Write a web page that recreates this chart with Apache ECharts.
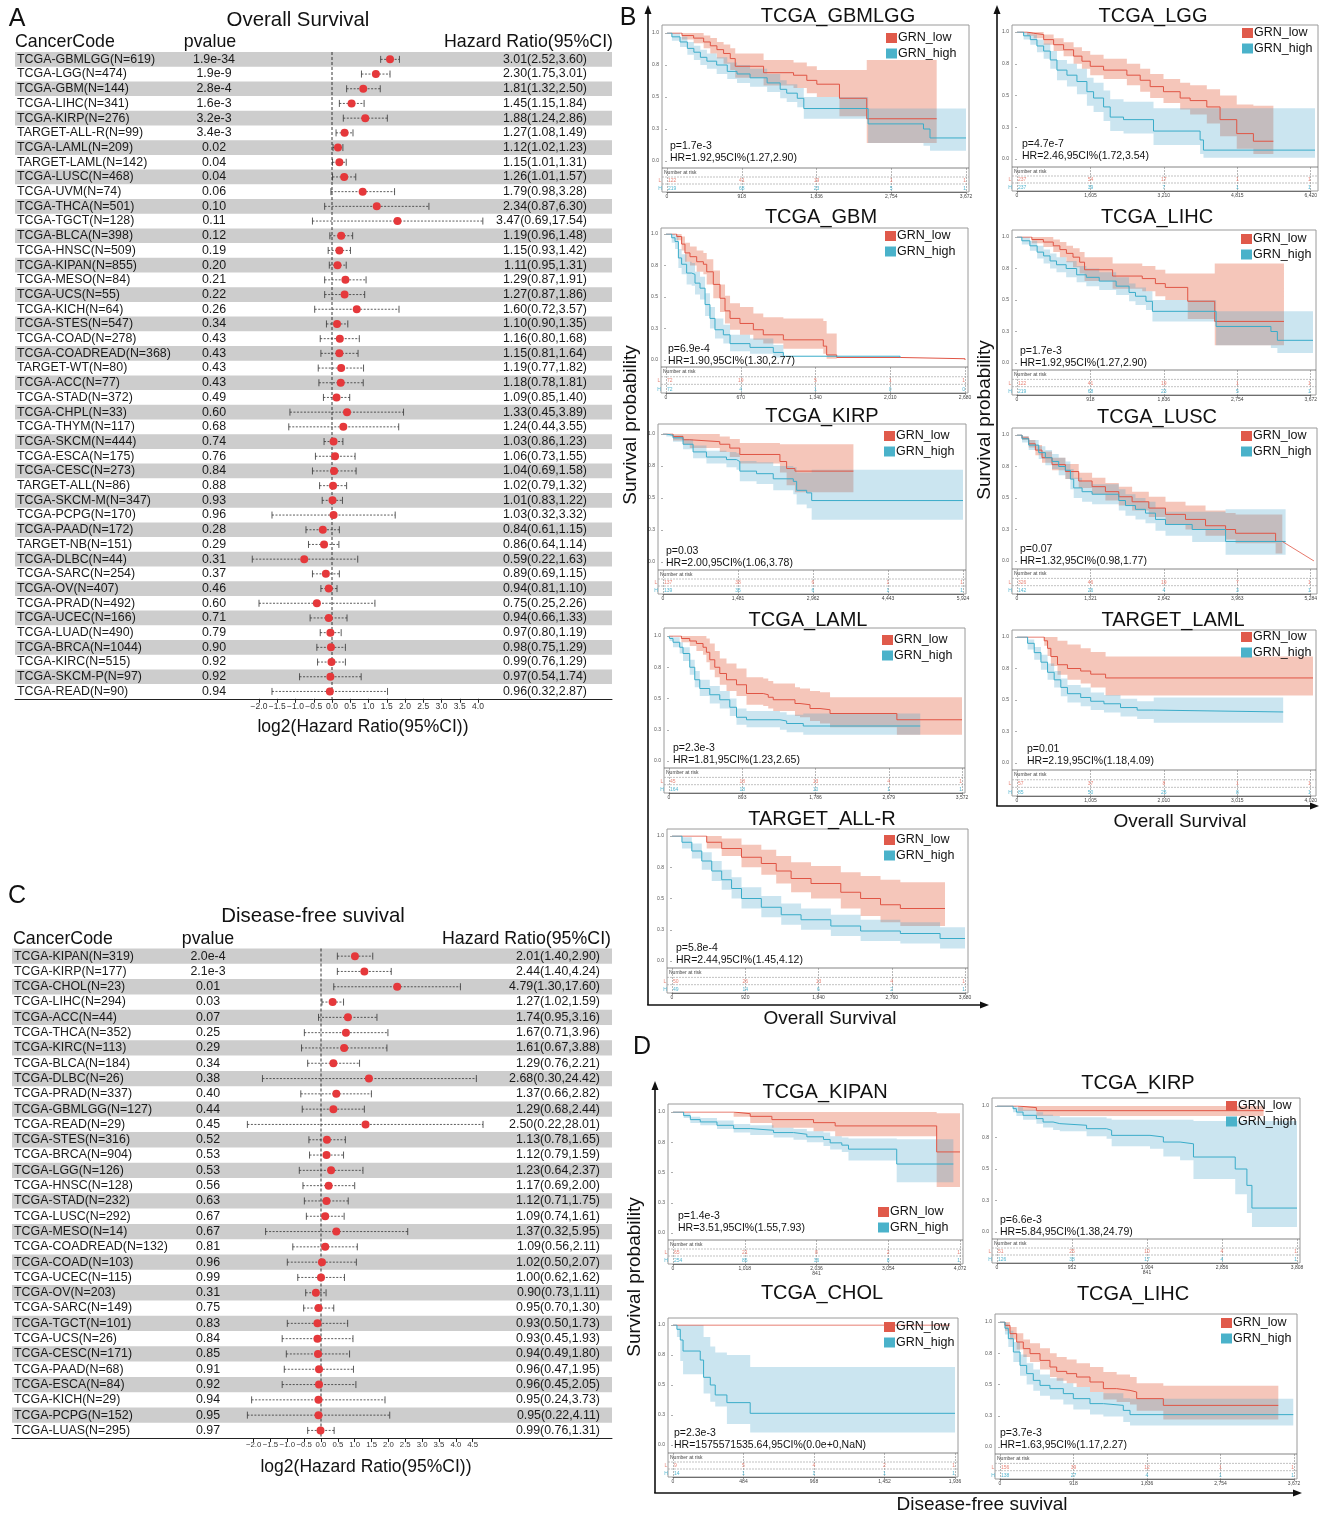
<!DOCTYPE html>
<html>
<head>
<meta charset="utf-8">
<script src="https://cdn.jsdelivr.net/npm/echarts@6/dist/echarts.min.js"></script>
<style>
html, body { margin: 0; padding: 0; background: #fff; }
#chart { width: 1320px; height: 1513px; }
</style>
</head>
<body>
<div id="chart"></div>
<script>
// ---------- A: overall survival forest plot ----------
var osCodes = ['TCGA-GBMLGG(N=619)','TCGA-LGG(N=474)','TCGA-GBM(N=144)','TCGA-LIHC(N=341)','TCGA-KIRP(N=276)','TARGET-ALL-R(N=99)','TCGA-LAML(N=209)','TARGET-LAML(N=142)','TCGA-LUSC(N=468)','TCGA-UVM(N=74)','TCGA-THCA(N=501)','TCGA-TGCT(N=128)','TCGA-BLCA(N=398)','TCGA-HNSC(N=509)','TCGA-KIPAN(N=855)','TCGA-MESO(N=84)','TCGA-UCS(N=55)','TCGA-KICH(N=64)','TCGA-STES(N=547)','TCGA-COAD(N=278)','TCGA-COADREAD(N=368)','TARGET-WT(N=80)','TCGA-ACC(N=77)','TCGA-STAD(N=372)','TCGA-CHPL(N=33)','TCGA-THYM(N=117)','TCGA-SKCM(N=444)','TCGA-ESCA(N=175)','TCGA-CESC(N=273)','TARGET-ALL(N=86)','TCGA-SKCM-M(N=347)','TCGA-PCPG(N=170)','TCGA-PAAD(N=172)','TARGET-NB(N=151)','TCGA-DLBC(N=44)','TCGA-SARC(N=254)','TCGA-OV(N=407)','TCGA-PRAD(N=492)','TCGA-UCEC(N=166)','TCGA-LUAD(N=490)','TCGA-BRCA(N=1044)','TCGA-KIRC(N=515)','TCGA-SKCM-P(N=97)','TCGA-READ(N=90)'];
var osP = ['1.9e-34','1.9e-9','2.8e-4','1.6e-3','3.2e-3','3.4e-3','0.02','0.04','0.04','0.06','0.10','0.11','0.12','0.19','0.20','0.21','0.22','0.26','0.34','0.43','0.43','0.43','0.43','0.49','0.60','0.68','0.74','0.76','0.84','0.88','0.93','0.96','0.28','0.29','0.31','0.37','0.46','0.60','0.71','0.79','0.90','0.92','0.92','0.94'];
var osHR = [3.01,2.30,1.81,1.45,1.88,1.27,1.12,1.15,1.26,1.79,2.34,3.47,1.19,1.15,1.11,1.29,1.27,1.60,1.10,1.16,1.15,1.19,1.18,1.09,1.33,1.24,1.03,1.06,1.04,1.02,1.01,1.03,0.84,0.86,0.59,0.89,0.94,0.75,0.94,0.97,0.98,0.99,0.97,0.96];
var osLow = [2.52,1.75,1.32,1.15,1.24,1.08,1.02,1.01,1.01,0.98,0.87,0.69,0.96,0.93,0.95,0.87,0.87,0.72,0.90,0.80,0.81,0.77,0.78,0.85,0.45,0.44,0.86,0.73,0.69,0.79,0.83,0.32,0.61,0.64,0.22,0.69,0.81,0.25,0.66,0.80,0.75,0.76,0.54,0.32];
var osHigh = [3.60,3.01,2.50,1.84,2.86,1.49,1.23,1.31,1.57,3.28,6.30,17.54,1.48,1.42,1.31,1.91,1.86,3.57,1.35,1.68,1.64,1.82,1.81,1.40,3.89,3.55,1.23,1.55,1.58,1.32,1.22,3.32,1.15,1.14,1.63,1.15,1.10,2.26,1.33,1.19,1.29,1.29,1.74,2.87];

// ---------- C: disease-free survival forest plot ----------
var dfsCodes = ['TCGA-KIPAN(N=319)','TCGA-KIRP(N=177)','TCGA-CHOL(N=23)','TCGA-LIHC(N=294)','TCGA-ACC(N=44)','TCGA-THCA(N=352)','TCGA-KIRC(N=113)','TCGA-BLCA(N=184)','TCGA-DLBC(N=26)','TCGA-PRAD(N=337)','TCGA-GBMLGG(N=127)','TCGA-READ(N=29)','TCGA-STES(N=316)','TCGA-BRCA(N=904)','TCGA-LGG(N=126)','TCGA-HNSC(N=128)','TCGA-STAD(N=232)','TCGA-LUSC(N=292)','TCGA-MESO(N=14)','TCGA-COADREAD(N=132)','TCGA-COAD(N=103)','TCGA-UCEC(N=115)','TCGA-OV(N=203)','TCGA-SARC(N=149)','TCGA-TGCT(N=101)','TCGA-UCS(N=26)','TCGA-CESC(N=171)','TCGA-PAAD(N=68)','TCGA-ESCA(N=84)','TCGA-KICH(N=29)','TCGA-PCPG(N=152)','TCGA-LUAS(N=295)'];
var dfsP = ['2.0e-4','2.1e-3','0.01','0.03','0.07','0.25','0.29','0.34','0.38','0.40','0.44','0.45','0.52','0.53','0.53','0.56','0.63','0.67','0.67','0.81','0.96','0.99','0.31','0.75','0.83','0.84','0.85','0.91','0.92','0.94','0.95','0.97'];
var dfsHR = [2.01,2.44,4.79,1.27,1.74,1.67,1.61,1.29,2.68,1.37,1.29,2.50,1.13,1.12,1.23,1.17,1.12,1.09,1.37,1.09,1.02,1.00,0.90,0.95,0.93,0.93,0.94,0.96,0.96,0.95,0.95,0.99];
var dfsLow = [1.40,1.40,1.30,1.02,0.95,0.71,0.67,0.76,0.30,0.66,0.68,0.22,0.78,0.79,0.64,0.69,0.71,0.74,0.32,0.56,0.50,0.62,0.73,0.70,0.50,0.45,0.49,0.47,0.45,0.24,0.22,0.76];
var dfsHigh = [2.90,4.24,17.60,1.59,3.16,3.96,3.88,2.21,24.42,2.82,2.44,28.01,1.65,1.59,2.37,2.00,1.75,1.61,5.95,2.11,2.07,1.62,1.11,1.30,1.73,1.93,1.80,1.95,2.05,3.73,4.11,1.31];

// ---------- KM curves, rows = [day, survival, lower95, upper95] ----------
var gbmlggLow = [[0,1,1,1],[184,.98,.95,1],[327,.96,.92,1],[450,.93,.88,.98],[532,.90,.84,.96],[613,.87,.80,.93],[695,.84,.76,.91],[777,.80,.71,.88],[838,.74,.65,.84],[1186,.69,.59,.79],[1554,.67,.57,.77],[1717,.63,.53,.74],[1840,.60,.50,.71],[2118,.49,.35,.71],[2453,.33,.14,.79],[3312,.33,.14,.79]];
var gbmlggHigh = [[0,1,1,1],[60,.97,.94,1],[160,.93,.89,.97],[250,.88,.83,.93],[330,.85,.79,.90],[410,.81,.75,.87],[490,.78,.72,.84],[610,.75,.68,.81],[740,.70,.64,.77],[860,.68,.61,.75],[1020,.65,.58,.72],[1230,.61,.54,.68],[1390,.56,.49,.63],[1470,.53,.46,.60],[1600,.49,.42,.57],[1680,.41,.33,.50],[2470,.29,.14,.41],[3150,.25,.12,.41],[3230,.18,.08,.41],[3672,.18,.08,.41]];
var gbmlggRiskL = [122,41,19,1,1], gbmlggRiskH = [219,68,23,5,1];

var lggLow = [[0,1,1,1],[215,.99,.97,1],[359,.98,.95,1],[574,.94,.90,.98],[789,.90,.85,.95],[1004,.86,.81,.92],[1219,.81,.75,.88],[1399,.77,.71,.85],[1578,.73,.66,.82],[1865,.70,.63,.79],[2367,.66,.58,.75],[2654,.62,.53,.71],[2869,.57,.48,.67],[3156,.53,.44,.63],[3515,.48,.39,.60],[3730,.46,.35,.58],[4089,.41,.28,.55],[4375,.31,.18,.50],[4734,.20,.08,.43],[5093,.14,.04,.42],[5523,.14,.04,.42]];
var lggHigh = [[0,1,1,1],[143,.97,.94,1],[287,.94,.90,.98],[430,.89,.84,.94],[574,.85,.79,.91],[717,.78,.71,.85],[861,.70,.62,.78],[1076,.66,.57,.75],[1291,.61,.51,.71],[1506,.53,.42,.64],[1650,.48,.37,.60],[1865,.41,.30,.54],[2008,.33,.22,.47],[2295,.31,.20,.45],[2941,.22,.11,.40],[3945,.15,.04,.40],[4017,.07,.01,.40],[6420,.07,.01,.40]];
var lggRiskL = [237,54,17,1,1], lggRiskH = [237,39,7,1,1];

var gbmLow = [[0,1,1,1],[96,.98,.95,1],[140,.92,.87,.98],[170,.85,.78,.93],[215,.82,.75,.90],[275,.78,.70,.87],[335,.76,.68,.85],[365,.70,.60,.80],[424,.60,.49,.71],[484,.49,.38,.60],[529,.39,.29,.51],[574,.33,.24,.45],[663,.29,.20,.42],[783,.24,.16,.37],[872,.20,.13,.34],[1052,.16,.09,.33],[1410,.11,.05,.31],[1440,.04,.01,.21],[1530,.02,.02,.02],[2098,.01,.01,.01],[2680,0,0,0]];
var gbmHigh = [[0,1,1,1],[51,.97,.93,1],[81,.94,.88,.99],[111,.81,.73,.88],[140,.76,.68,.84],[185,.69,.60,.78],[230,.68,.59,.77],[260,.61,.52,.70],[305,.57,.48,.66],[350,.44,.35,.53],[394,.33,.25,.42],[439,.24,.17,.33],[514,.20,.13,.28],[574,.13,.07,.20],[753,.10,.05,.17],[962,.06,.02,.12],[1052,.03,.03,.03],[2098,.02,.02,.02]];
var gbmRiskL = [72,19,5,1,1], gbmRiskH = [72,4,1,0,0];

var kirpLow = [[0,1,1,1],[198,.98,.95,1],[396,.955,.92,1],[528,.94,.89,1],[1121,.92,.86,.98],[1319,.89,.82,.96],[1517,.84,.77,.93],[2309,.785,.70,.92],[2441,.73,.60,.92],[2606,.71,.545,.92],[3760,.71,.545,.92]];
var kirpHigh = [[0,1,1,1],[66,.99,.98,1],[198,.97,.94,.99],[396,.92,.88,.96],[594,.86,.81,.91],[858,.82,.77,.87],[1253,.80,.74,.86],[1451,.785,.72,.85],[1517,.71,.63,.79],[1847,.69,.61,.78],[2177,.65,.56,.75],[2573,.63,.53,.74],[2639,.56,.45,.70],[2837,.54,.42,.70],[2936,.48,.33,.72],[5924,.48,.33,.72]];
var kirpRiskL = [137,38,6,1,1], kirpRiskH = [139,36,6,1,1];

var lamlLow = [[0,1,1,1],[151,.98,.95,1],[253,.96,.92,1],[334,.94,.88,1],[415,.91,.85,1],[456,.87,.79,.98],[497,.81,.73,.94],[558,.75,.67,.88],[619,.70,.61,.82],[701,.65,.56,.78],[823,.61,.52,.74],[945,.54,.45,.67],[1149,.53,.44,.66],[1210,.51,.42,.64],[1271,.49,.40,.62],[1536,.46,.36,.59],[1597,.45,.35,.58],[1719,.42,.32,.56],[1841,.41,.30,.55],[1963,.38,.27,.51],[2778,.33,.21,.51],[3572,.33,.21,.51]];
var lamlHigh = [[0,1,1,1],[8,.98,.96,1],[49,.95,.91,.99],[130,.91,.86,.95],[171,.86,.80,.91],[253,.75,.69,.81],[314,.65,.59,.72],[375,.58,.52,.65],[497,.53,.46,.60],[619,.49,.42,.56],[741,.43,.36,.50],[823,.35,.29,.42],[945,.33,.27,.40],[1352,.32,.25,.39],[1434,.30,.23,.37],[1637,.28,.21,.38],[3063,.28,.21,.38]];
var lamlRiskL = [45,18,13,4,1], lamlRiskH = [164,18,10,1,1];

var allrLow = [[0,1,1,1],[436,.95,.90,1],[624,.90,.84,.98],[873,.83,.75,.93],[1122,.78,.69,.89],[1309,.72,.62,.84],[1496,.66,.55,.79],[1746,.62,.50,.76],[2120,.55,.42,.71],[2369,.50,.36,.68],[2619,.45,.31,.65],[2868,.42,.28,.63],[3429,.42,.28,.63]];
var allrHigh = [[0,1,1,1],[125,.95,.90,.99],[249,.88,.82,.94],[374,.80,.73,.87],[499,.72,.64,.80],[624,.65,.57,.73],[748,.58,.50,.67],[873,.50,.42,.59],[1122,.43,.35,.52],[1372,.37,.29,.46],[1621,.33,.25,.42],[1995,.28,.20,.37],[2369,.24,.16,.33],[2868,.22,.14,.31],[3367,.18,.10,.27],[3680,.18,.10,.27]];
var allrRiskL = [50,26,13,4,1], allrRiskH = [49,14,6,2,1];

var lihcLow = gbmlggLow, lihcHigh = gbmlggHigh;
var lihcRiskL = [122,41,19,1,1], lihcRiskH = [219,68,23,5,1];

var luscLow = [[0,1,1,1],[89,.975,.96,.99],[208,.93,.90,.96],[327,.88,.84,.92],[445,.82,.78,.87],[623,.765,.72,.82],[861,.71,.65,.77],[1098,.635,.58,.70],[1336,.59,.53,.66],[1573,.55,.48,.62],[1811,.51,.44,.59],[2048,.47,.40,.55],[2345,.42,.35,.51],[2642,.37,.29,.47],[2998,.33,.25,.44],[3354,.28,.20,.40],[3711,.25,.17,.38],[3889,.22,.14,.37],[4601,.155,.06,.37],[4720,.155,.06,.37]];
var luscTail = [[4720,.155],[5284,0]];
var luscHigh = [[0,1,1,1],[89,.97,.94,.99],[208,.92,.88,.96],[386,.86,.81,.91],[505,.82,.76,.88],[623,.79,.73,.85],[742,.75,.68,.82],[861,.72,.65,.79],[950,.65,.57,.73],[1009,.58,.50,.66],[1158,.55,.47,.63],[1336,.53,.45,.61],[1811,.48,.40,.57],[1930,.44,.36,.53],[2108,.41,.33,.50],[2286,.38,.30,.47],[2464,.33,.24,.42],[2642,.29,.20,.39],[3117,.25,.15,.39],[3711,.155,.05,.41],[4779,.155,.05,.41]];
var luscRiskL = [326,46,19,7,1], luscRiskH = [142,26,4,3,1];

var tlamlLow = [[0,1,1,1],[370,.97,.93,1],[415,.91,.85,1],[460,.845,.77,1],[550,.78,.70,.97],[685,.75,.66,.94],[865,.73,.63,.91],[1001,.705,.60,.88],[1203,.675,.535,.845],[4020,.675,.535,.845]];
var tlamlHigh = [[0,1,1,1],[144,.95,.90,.98],[234,.876,.82,.92],[325,.80,.74,.86],[415,.72,.66,.79],[505,.66,.60,.73],[595,.60,.53,.67],[685,.55,.48,.62],[865,.52,.45,.60],[1001,.49,.42,.56],[1181,.47,.40,.54],[1406,.44,.37,.51],[1632,.42,.35,.49],[1857,.405,.32,.52],[3615,.405,.32,.52]];
var tlamlRiskL = [57,37,8,1,1], tlamlRiskH = [85,50,25,8,1];

var kipanLow = [[0,1,1,1],[860,.986,.96,1],[1096,.964,.91,1],[1403,.937,.87,1],[1994,.912,.84,1],[2301,.885,.80,1],[3741,.67,.38,.99],[4072,.67,.38,.99]];
var kipanHigh = [[0,1,1,1],[151,.97,.95,.99],[246,.937,.91,.96],[387,.918,.89,.95],[624,.89,.86,.93],[860,.863,.83,.90],[1096,.849,.81,.89],[1427,.83,.79,.87],[1710,.816,.77,.86],[1899,.795,.75,.84],[2135,.773,.72,.83],[2230,.745,.69,.80],[2395,.726,.67,.79],[2490,.693,.60,.78],[3174,.57,.42,.775],[3978,.57,.42,.775]];
var kipanRiskL = [65,21,8,2,1], kipanRiskH = [254,86,36,8,1];

var dkirpLow = [[0,1,1,1],[267,.987,.96,1],[500,.963,.92,1],[3384,.963,.92,1]];
var dkirpHigh = [[0,1,1,1],[204,.979,.95,1],[246,.952,.92,.99],[331,.926,.89,.97],[500,.90,.86,.95],[585,.873,.83,.93],[712,.86,.81,.92],[797,.847,.80,.91],[1137,.82,.76,.91],[1391,.807,.74,.90],[1455,.767,.68,.89],[1942,.754,.66,.89],[2112,.714,.60,.89],[2324,.70,.57,.89],[2494,.595,.42,.88],[3024,.50,.30,.88],[3172,.37,.15,.88],[3236,.19,.04,.88],[3808,.19,.04,.88]];
var dkirpRiskL = [51,25,10,4,1], dkirpRiskH = [126,38,17,4,1];

var cholLow = [[0,1,1,1],[1902,1,1,1]];
var cholHigh = [[0,1,1,1],[27,.964,.90,1],[50,.875,.70,1],[69,.783,.59,1],[187,.708,.59,1],[210,.564,.43,.90],[256,.50,.36,.82],[290,.417,.32,.77],[370,.353,.175,.75],[530,.264,.105,.65],[1936,.264,.105,.65]];
var cholRiskL = [9,5,4,2,1], cholRiskH = [14,1,1,1,1];

var dlihcLow = [[0,1,1,1],[62,.973,.93,1],[125,.907,.86,.96],[208,.84,.78,.91],[291,.787,.72,.86],[375,.747,.68,.83],[500,.693,.62,.79],[624,.64,.56,.75],[708,.605,.53,.72],[833,.587,.51,.70],[957,.56,.48,.67],[1124,.52,.44,.64],[1291,.467,.38,.60],[1457,.453,.36,.58],[1624,.44,.34,.56],[1707,.387,.29,.51],[2040,.333,.22,.49],[3476,.333,.22,.49]];
var dlihcHigh = [[0,1,1,1],[62,.95,.90,.99],[104,.867,.80,.93],[167,.76,.68,.84],[250,.653,.57,.74],[333,.587,.50,.67],[416,.533,.45,.62],[500,.493,.41,.58],[624,.467,.38,.55],[791,.427,.34,.51],[916,.387,.30,.48],[1124,.347,.26,.44],[1291,.333,.245,.43],[1540,.293,.20,.39],[1624,.259,.173,.387],[3663,.259,.173,.387]];
var dlihcRiskL = [156,39,12,1,1], dlihcRiskH = [138,27,4,1,1];

// ---------- drawing ----------
var FONT = '"Liberation Sans", Arial, Helvetica, sans-serif';
var RED = '#e05545', BLUE = '#3aacc9';
var RED_FILL = 'rgba(232,120,90,0.42)', BLUE_FILL = 'rgba(70,160,200,0.28)';
var RED_LEG = '#e05a4b', BLUE_LEG = '#4ab2ca';
var RISK_RED = '#e8877b', RISK_BLUE = '#55b6cf';

var grids = [], xAxes = [], yAxes = [], series = [], graphics = [];

function textStyle(s, size, align, color) {
  return {text: s, fill: color || '#111', fontSize: size, fontFamily: FONT,
    textAlign: align || 'left', textVerticalAlign: 'middle', align: align || 'left', verticalAlign: 'middle'};
}
function label(x, y, s, size, align, color, rot) {
  var el = {type: 'text', x: x, y: y, z: 10, silent: true, style: textStyle(s, size, align, color)};
  if (rot) el.rotation = rot;
  graphics.push(el);
}
function seg(x1, y1, x2, y2, color, w, dash) {
  graphics.push({type: 'line', z: 9, silent: true, shape: {x1: x1, y1: y1, x2: x2, y2: y2},
    style: {stroke: color, lineWidth: w, lineDash: dash || null}});
}

function forest(f) {
  var n = f.codes.length, h = n * f.rowH;
  var gi = grids.length;
  grids.push({left: f.left, top: f.top, width: f.right - f.left, height: h});
  xAxes.push({gridIndex: gi, type: 'value', min: 0, max: 1, axisLine: {show: true, lineStyle: {color: '#222', width: 1}},
    axisTick: {show: false}, axisLabel: {show: false}, splitLine: {show: false}});
  yAxes.push({gridIndex: gi, type: 'category', data: f.codes, inverse: true, show: false});
  series.push({type: 'custom', xAxisIndex: gi, yAxisIndex: gi, z: 1, silent: true,
    data: f.codes.map(function (c, i) { return [0, i]; }),
    renderItem: function (params, api) {
      var i = api.value(1), y = api.coord([0, i])[1], bh = api.size([0, 1])[1], cs = params.coordSys;
      var kids = [];
      if (i % 2 === 0) kids.push({type: 'rect', shape: {x: cs.x, y: y - bh / 2, width: cs.width, height: bh}, style: {fill: '#cdcdcd'}});
      var hrTxt = f.hr[i].toFixed(2) + '(' + f.lo[i].toFixed(2) + ',' + f.hi[i].toFixed(2) + ')';
      kids.push({type: 'text', x: cs.x + f.pad, y: y, style: textStyle(f.codes[i], 12.4, 'left', '#1a1a1a')});
      kids.push({type: 'text', x: f.pCol, y: y, style: textStyle(f.p[i], 12.4, 'center', '#1a1a1a')});
      kids.push({type: 'text', x: f.hrRight, y: y, style: textStyle(hrTxt, 12.4, 'right', '#1a1a1a')});
      return {type: 'group', children: kids};
    }});

  var ai = grids.length;
  var l = f.zero + f.min * f.unit, r = f.zero + f.max * f.unit;
  grids.push({left: l, top: f.top, width: r - l, height: h});
  xAxes.push({gridIndex: ai, type: 'value', min: f.min, max: f.max, interval: 0.5,
    axisLine: {show: false}, axisTick: {show: true, length: 4, lineStyle: {color: '#222', width: 1}},
    axisLabel: {fontSize: f.tickFont, color: '#333', margin: 3, fontFamily: FONT, showMinLabel: true, showMaxLabel: true, hideOverlap: false,
      formatter: function (v) { return v.toFixed(1).replace('-', '\u2212'); }},
    splitLine: {show: false}});
  yAxes.push({gridIndex: ai, type: 'category', data: f.codes, inverse: true, show: false});
  series.push({type: 'custom', xAxisIndex: ai, yAxisIndex: ai, z: 5, silent: true,
    data: f.hr.map(function (v, i) { return [Math.log2(v), i, Math.log2(f.lo[i]), Math.log2(f.hi[i])]; }),
    encode: {x: [0, 2, 3], y: 1},
    renderItem: function (params, api) {
      var i = api.value(1);
      var p = api.coord([api.value(0), i]);
      var xl = api.coord([api.value(2), i])[0], xr = api.coord([api.value(3), i])[0];
      var y = p[1], cs = params.coordSys;
      var kids = [
        {type: 'line', shape: {x1: xl, y1: y, x2: xr, y2: y}, style: {stroke: '#333', lineWidth: 0.8, lineDash: [2, 1.5]}},
        {type: 'line', shape: {x1: xl, y1: y - 3.5, x2: xl, y2: y + 3.5}, style: {stroke: '#333', lineWidth: 0.8}},
        {type: 'line', shape: {x1: xr, y1: y - 3.5, x2: xr, y2: y + 3.5}, style: {stroke: '#333', lineWidth: 0.8}},
        {type: 'circle', shape: {cx: p[0], cy: y, r: 4}, style: {fill: '#e5383b'}}
      ];
      if (params.dataIndex === 0) {
        var zx = api.coord([0, 0])[0];
        kids.unshift({type: 'line', shape: {x1: zx, y1: cs.y, x2: zx, y2: cs.y + cs.height}, style: {stroke: '#222', lineWidth: 0.9, lineDash: [3, 2]}});
      }
      return {type: 'group', children: kids};
    }});
}

function km(k) {
  var b = k.box, x0 = b[0], x1 = b[1], y1 = b[2], y0 = b[3], ft = b[4], fb = b[5], ab = b[6];
  var gi = grids.length;
  grids.push({left: x0, top: y1, width: x1 - x0, height: y0 - y1});
  xAxes.push({gridIndex: gi, type: 'value', min: 0, max: k.xmax, show: false});
  yAxes.push({gridIndex: gi, type: 'value', min: 0, max: 1, interval: 0.25, axisLine: {show: false},
    axisTick: {show: true, length: 2, lineStyle: {color: '#777', width: 0.6}},
    axisLabel: {fontSize: 5, color: '#555', margin: 8, fontFamily: FONT, formatter: function (v) { return v.toFixed(1); }},
    splitLine: {show: false}});
  [[k.low, RED_FILL], [k.high, BLUE_FILL]].forEach(function (pair) {
    var rows = pair[0];
    series.push({type: 'custom', xAxisIndex: gi, yAxisIndex: gi, z: 1, silent: true, data: [[0, 0]],
      renderItem: function (params, api) {
        var up = [], dn = [];
        rows.forEach(function (r, i) {
          var nx = i + 1 < rows.length ? rows[i + 1][0] : r[0];
          up.push(api.coord([r[0], r[3]]), api.coord([nx, r[3]]));
          dn.unshift(api.coord([nx, r[2]]), api.coord([r[0], r[2]]));
        });
        return {type: 'polygon', shape: {points: up.concat(dn)}, style: {fill: pair[1]}};
      }});
  });
  series.push({type: 'line', xAxisIndex: gi, yAxisIndex: gi, step: 'end', symbol: 'none', z: 3, silent: true,
    lineStyle: {color: RED, width: 1}, data: k.low.map(function (r) { return [r[0], r[1]]; })});
  series.push({type: 'line', xAxisIndex: gi, yAxisIndex: gi, step: 'end', symbol: 'none', z: 3, silent: true,
    lineStyle: {color: BLUE, width: 1}, data: k.high.map(function (r) { return [r[0], r[1]]; })});
  if (k.tail) series.push({type: 'line', xAxisIndex: gi, yAxisIndex: gi, symbol: 'none', z: 3, silent: true,
    lineStyle: {color: RED, width: 0.8}, data: k.tail});

  // number-at-risk table
  var ti = grids.length;
  grids.push({left: x0, top: fb, width: x1 - x0, height: ab - fb});
  xAxes.push({gridIndex: ti, type: 'value', min: 0, max: k.xmax, interval: k.xmax / 4,
    axisLine: {lineStyle: {color: '#555', width: 0.8}}, axisTick: {length: 2, lineStyle: {color: '#555', width: 0.6}},
    axisLabel: {fontSize: 5, color: '#444', margin: 2, fontFamily: FONT},
    splitLine: {show: true, lineStyle: {color: '#888', width: 0.6, type: [2, 1]}}});
  yAxes.push({gridIndex: ti, type: 'value', min: 0, max: 1, show: false});
  var cells = [];
  for (var j = 0; j < 5; j++) {
    cells.push([j * k.xmax / 4, 0.46, 0, j]);
    cells.push([j * k.xmax / 4, 0.125, 1, j]);
  }
  series.push({type: 'custom', xAxisIndex: ti, yAxisIndex: ti, z: 4, silent: true, data: cells,
    renderItem: function (params, api) {
      var pt = api.coord([api.value(0), api.value(1)]);
      var row = api.value(2), c = api.value(3);
      var al = c === 0 ? 'left' : (c === 4 ? 'right' : 'center');
      return {type: 'text', x: pt[0] + (c === 0 ? 1 : 0), y: pt[1],
        style: textStyle(String((row ? k.riskH : k.riskL)[c]), 5, al, row ? RISK_BLUE : RISK_RED)};
    }});

  var fl = x0 - 5, fr = x1 + 3, th = ab - fb;
  graphics.push({type: 'rect', z: 0, silent: true, shape: {x: fl, y: ft, width: fr - fl, height: ab - ft},
    style: {fill: 'none', stroke: '#9a9a9a', lineWidth: 1}});
  seg(fl, fb, fr, fb, '#666', 0.8);
  seg(fl, fb + th * 0.375, fr, fb + th * 0.375, '#999', 0.6, [2, 1]);
  seg(fl, fb + th * 0.667, fr, fb + th * 0.667, '#999', 0.6, [2, 1]);
  label(fl + 2, fb + th * 0.19, 'Number at risk', 5, 'left', '#444');
  label(x0 - 7, fb + th * 0.54, 'L', 5, 'center', RISK_RED);
  label(x0 - 7, fb + th * 0.875, 'H', 5, 'center', RISK_BLUE);
  if (k.extra) label(x0 + (x1 - x0) * k.extra[0] / k.xmax, ab + 10, k.extra[1], 5, 'center', '#444');

  label(k.t[0], k.t[1], k.title, 20, 'center', '#111');
  var lx = k.leg[0], ly = k.leg[1];
  graphics.push({type: 'rect', z: 10, silent: true, shape: {x: lx, y: ly - 5, width: 11, height: 10}, style: {fill: RED_LEG}});
  graphics.push({type: 'rect', z: 10, silent: true, shape: {x: lx, y: ly + 10.5, width: 11, height: 10}, style: {fill: BLUE_LEG}});
  label(lx + 12, ly, 'GRN_low', 12.5, 'left', '#111');
  label(lx + 12, ly + 15.5, 'GRN_high', 12.5, 'left', '#111');
  label(k.txt[0], k.txt[1], k.p, 10.5, 'left', '#111');
  label(k.txt[0], k.txt[1] + 12, k.hr, 10.5, 'left', '#111');
}

function axesArrow(x, yTop, yBot, xRight) {
  seg(x, yBot, x, yTop + 6, '#111', 1.6);
  seg(x - 0.8, yBot, xRight - 6, yBot, '#111', 1.6);
  graphics.push({type: 'polygon', z: 9, silent: true, shape: {points: [[x, yTop], [x - 3.5, yTop + 9], [x + 3.5, yTop + 9]]}, style: {fill: '#111'}});
  graphics.push({type: 'polygon', z: 9, silent: true, shape: {points: [[xRight, yBot], [xRight - 9, yBot - 3.5], [xRight - 9, yBot + 3.5]]}, style: {fill: '#111'}});
}

// A
forest({codes: osCodes, p: osP, hr: osHR, lo: osLow, hi: osHigh, left: 15, right: 612, top: 52, rowH: 14.7, pad: 2,
  zero: 332, unit: 36.5, min: -2, max: 4, pCol: 214, hrRight: 587, tickFont: 8.5});
label(17, 19, 'A', 25, 'center');
label(298, 20, 'Overall Survival', 20.4, 'center');
label(15, 42, 'CancerCode', 17.8, 'left');
label(210, 42, 'pvalue', 17.8, 'center');
label(613, 42, 'Hazard Ratio(95%CI)', 17.8, 'right');
label(363, 727, 'log2(Hazard Ratio(95%CI))', 17.5, 'center');

// C
forest({codes: dfsCodes, p: dfsP, hr: dfsHR, lo: dfsLow, hi: dfsHigh, left: 12, right: 612, top: 948.5, rowH: 15.3, pad: 2,
  zero: 321, unit: 33.7, min: -2, max: 4.5, pCol: 208, hrRight: 600, tickFont: 7.8});
label(17, 896, 'C', 25, 'center');
label(313, 916, 'Disease-free suvival', 20.4, 'center');
label(13, 939, 'CancerCode', 17.8, 'left');
label(208, 939, 'pvalue', 17.8, 'center');
label(611, 939, 'Hazard Ratio(95%CI)', 17.8, 'right');
label(366, 1467, 'log2(Hazard Ratio(95%CI))', 17.5, 'center');

// B and D survival curves
var kmPanels = [
  {title: 'TCGA_GBMLGG', low: gbmlggLow, high: gbmlggHigh, xmax: 3672, riskL: gbmlggRiskL, riskH: gbmlggRiskH,
    p: 'p=1.7e-3', hr: 'HR=1.92,95CI%(1.27,2.90)', box: [667, 966, 33, 161, 25, 168, 192], t: [838, 16], leg: [886, 38], txt: [670, 146]},
  {title: 'TCGA_GBM', low: gbmLow, high: gbmHigh, xmax: 2680, riskL: gbmRiskL, riskH: gbmRiskH,
    p: 'p=6.9e-4', hr: 'HR=1.90,95CI%(1.30,2.77)', box: [666, 965, 234, 360, 228, 367, 393], t: [821, 217], leg: [885, 236], txt: [668, 349]},
  {title: 'TCGA_KIRP', low: kirpLow, high: kirpHigh, xmax: 5924, riskL: kirpRiskL, riskH: kirpRiskH,
    p: 'p=0.03', hr: 'HR=2.00,95CI%(1.06,3.78)', box: [663, 963, 434, 562, 424, 570, 594], t: [822, 416], leg: [884, 436], txt: [666, 551]},
  {title: 'TCGA_LAML', low: lamlLow, high: lamlHigh, xmax: 3572, riskL: lamlRiskL, riskH: lamlRiskH,
    p: 'p=2.3e-3', hr: 'HR=1.81,95CI%(1.23,2.65)', box: [669, 962, 636, 761, 628, 768, 793], t: [808, 620], leg: [882, 640], txt: [673, 748]},
  {title: 'TARGET_ALL-R', low: allrLow, high: allrHigh, xmax: 3680, riskL: allrRiskL, riskH: allrRiskH,
    p: 'p=5.8e-4', hr: 'HR=2.44,95CI%(1.45,4.12)', box: [672, 965, 836, 961, 829, 968, 993], t: [822, 819], leg: [884, 840], txt: [676, 948]},
  {title: 'TCGA_LGG', low: lggLow, high: lggHigh, xmax: 6420, riskL: lggRiskL, riskH: lggRiskH,
    p: 'p=4.7e-7', hr: 'HR=2.46,95CI%(1.72,3.54)', box: [1017, 1315, 32, 159, 25, 167, 191], t: [1153, 16], leg: [1242, 33], txt: [1022, 144]},
  {title: 'TCGA_LIHC', low: lihcLow, high: lihcHigh, xmax: 3672, riskL: lihcRiskL, riskH: lihcRiskH,
    p: 'p=1.7e-3', hr: 'HR=1.92,95CI%(1.27,2.90)', box: [1017, 1313, 237, 363, 230, 370, 395], t: [1157, 217], leg: [1241, 239], txt: [1020, 351]},
  {title: 'TCGA_LUSC', low: luscLow, high: luscHigh, tail: luscTail, xmax: 5284, riskL: luscRiskL, riskH: luscRiskH,
    p: 'p=0.07', hr: 'HR=1.32,95CI%(0.98,1.77)', box: [1017, 1314, 435, 561, 428, 569, 594], t: [1157, 417], leg: [1241, 436], txt: [1020, 549]},
  {title: 'TARGET_LAML', low: tlamlLow, high: tlamlHigh, xmax: 4020, riskL: tlamlRiskL, riskH: tlamlRiskH,
    p: 'p=0.01', hr: 'HR=2.19,95CI%(1.18,4.09)', box: [1017, 1313, 637, 763, 630, 770, 796], t: [1173, 620], leg: [1241, 637], txt: [1027, 749]},
  {title: 'TCGA_KIPAN', low: kipanLow, high: kipanHigh, xmax: 4072, riskL: kipanRiskL, riskH: kipanRiskH, extra: [2036, '841'],
    p: 'p=1.4e-3', hr: 'HR=3.51,95CI%(1.55,7.93)', box: [673, 960, 1112, 1233, 1104, 1240, 1264], t: [825, 1092], leg: [878, 1212], txt: [678, 1216]},
  {title: 'TCGA_KIRP', low: dkirpLow, high: dkirpHigh, xmax: 3808, riskL: dkirpRiskL, riskH: dkirpRiskH, extra: [1904, '841'],
    p: 'p=6.6e-3', hr: 'HR=5.84,95CI%(1.38,24.79)', box: [997, 1297, 1106, 1232, 1098, 1239, 1263], t: [1138, 1083], leg: [1226, 1106], txt: [1000, 1220]},
  {title: 'TCGA_CHOL', low: cholLow, high: cholHigh, xmax: 1936, riskL: cholRiskL, riskH: cholRiskH,
    p: 'p=2.3e-3', hr: 'HR=1575571535.64,95CI%(0.0e+0,NaN)', box: [673, 955, 1325, 1445, 1318, 1453, 1477], t: [822, 1293], leg: [884, 1327], txt: [674, 1433]},
  {title: 'TCGA_LIHC', low: dlihcLow, high: dlihcHigh, xmax: 3672, riskL: dlihcRiskL, riskH: dlihcRiskH,
    p: 'p=3.7e-3', hr: 'HR=1.63,95CI%(1.17,2.27)', box: [1000, 1294, 1322, 1447, 1314, 1454, 1479], t: [1133, 1294], leg: [1221, 1323], txt: [1000, 1433]}
];
kmPanels.forEach(km);

axesArrow(648, 5, 1005, 989);
axesArrow(997, 5, 806, 1319);
axesArrow(655, 1081, 1493, 1302);
label(628, 18, 'B', 25, 'center');
label(642, 1047, 'D', 25, 'center');
label(631, 425, 'Survival probability', 19, 'center', '#111', Math.PI / 2);
label(985, 420, 'Survival probability', 19, 'center', '#111', Math.PI / 2);
label(635, 1277, 'Survival probability', 19, 'center', '#111', Math.PI / 2);
label(830, 1019, 'Overall Survival', 19, 'center');
label(1180, 822, 'Overall Survival', 19, 'center');
label(982, 1505, 'Disease-free suvival', 19, 'center');

var chart = echarts.init(document.getElementById('chart'), null, {renderer: 'canvas'});
chart.setOption({
  animation: false,
  backgroundColor: '#ffffff',
  textStyle: {fontFamily: FONT},
  grid: grids,
  xAxis: xAxes,
  yAxis: yAxes,
  series: series,
  graphic: {elements: graphics}
});
</script>
</body>
</html>
